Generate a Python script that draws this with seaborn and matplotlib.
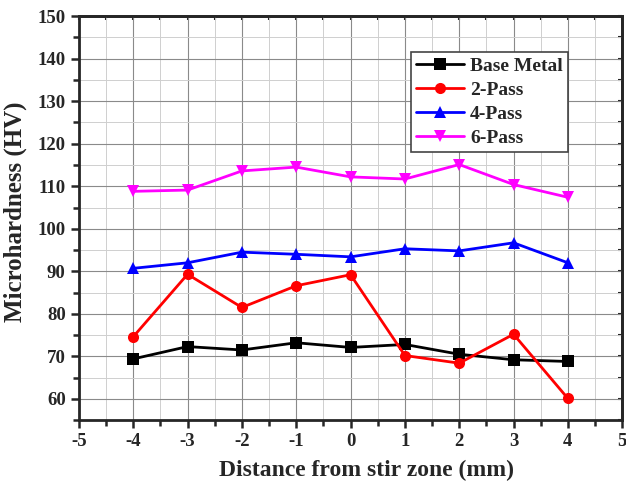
import pandas as pd
import matplotlib.pyplot as plt
import seaborn as sns
from matplotlib.ticker import MultipleLocator

# data
distance = [-4, -3, -2, -1, 0, 1, 2, 3, 4]
base_metal = [69.4, 72.3, 71.5, 73.2, 72.1, 72.8, 70.5, 69.2, 68.8]
pass_2 = [74.6, 89.3, 81.5, 86.6, 89.2, 70.2, 68.4, 75.2, 60.1]
pass_4 = [90.7, 92.0, 94.5, 94.0, 93.4, 95.3, 94.8, 96.7, 92.0]
pass_6 = [108.8, 109.1, 113.6, 114.5, 112.2, 111.7, 115.1, 110.4, 107.4]
series_names = ['Base Metal', '2-Pass', '4-Pass', '6-Pass']

df = pd.DataFrame({
    'x': distance * 4,
    'y': base_metal + pass_2 + pass_4 + pass_6,
    'Sample': [n for n in series_names for _ in distance],
})

sns.set_style('ticks')
plt.rcParams['font.family'] = ['Liberation Serif', 'DejaVu Serif']
plt.rcParams['font.weight'] = 'bold'
plt.rcParams['axes.unicode_minus'] = False

fig = plt.figure(figsize=(6.26, 4.88), dpi=100)
ax = fig.add_axes([0.126, 0.139, 0.868, 0.828])

palette = {'Base Metal': 'black', '2-Pass': 'red', '4-Pass': 'blue', '6-Pass': 'magenta'}
markers = {'Base Metal': 's', '2-Pass': 'o', '4-Pass': '^', '6-Pass': 'v'}

sns.lineplot(data=df, x='x', y='y', hue='Sample', style='Sample',
             palette=palette, markers=markers, dashes=False,
             linewidth=2, markersize=8, markeredgewidth=0, ax=ax)

ax.set_xlim(-5, 5)
ax.set_ylim(55, 150)
ax.xaxis.set_major_locator(MultipleLocator(1))
ax.xaxis.set_minor_locator(MultipleLocator(0.5))
ax.set_yticks(range(60, 151, 10))
ax.yaxis.set_minor_locator(MultipleLocator(5))

ax.grid(which='major', color='#8a8a8a', linewidth=0.8)
ax.grid(which='minor', color='#cfcfcf', linewidth=0.7)
ax.set_axisbelow(True)

for s in ax.spines.values():
    s.set_linewidth(2)
ax.tick_params(which='both', width=1.8, labelsize=13.5, direction='out')
ax.tick_params(which='major', length=6)
ax.tick_params(which='minor', length=4)
for lab in ax.get_xticklabels() + ax.get_yticklabels():
    lab.set_fontweight('bold')

# inward ticks on top and right, no labels
top = ax.secondary_xaxis('top')
top.xaxis.set_major_locator(MultipleLocator(0.5))
top.tick_params(direction='in', length=3, width=1.5, labeltop=False)
top.spines['top'].set_linewidth(2)
right = ax.secondary_yaxis('right')
right.yaxis.set_major_locator(MultipleLocator(5))
right.tick_params(direction='in', length=3, width=1.5, labelright=False)
right.spines['right'].set_linewidth(2)

ax.set_xlabel('Distance from stir zone (mm)', fontsize=17, fontweight='bold')
ax.set_ylabel('Microhardness (HV)', fontsize=18, fontweight='bold')
ax.xaxis.set_label_coords(0.53, -0.099)
ax.yaxis.set_label_coords(-0.095, 0.515)

leg = ax.legend(loc='upper left', bbox_to_anchor=(0.611, 0.911), fancybox=False,
                framealpha=1, edgecolor='#444444',
                prop={'weight': 'bold', 'size': 14}, handlelength=2.5,
                borderpad=0.25, labelspacing=0.34, handletextpad=0.3,
                borderaxespad=0)
leg.get_frame().set_linewidth(1.2)

plt.savefig('out.png', dpi=100)
